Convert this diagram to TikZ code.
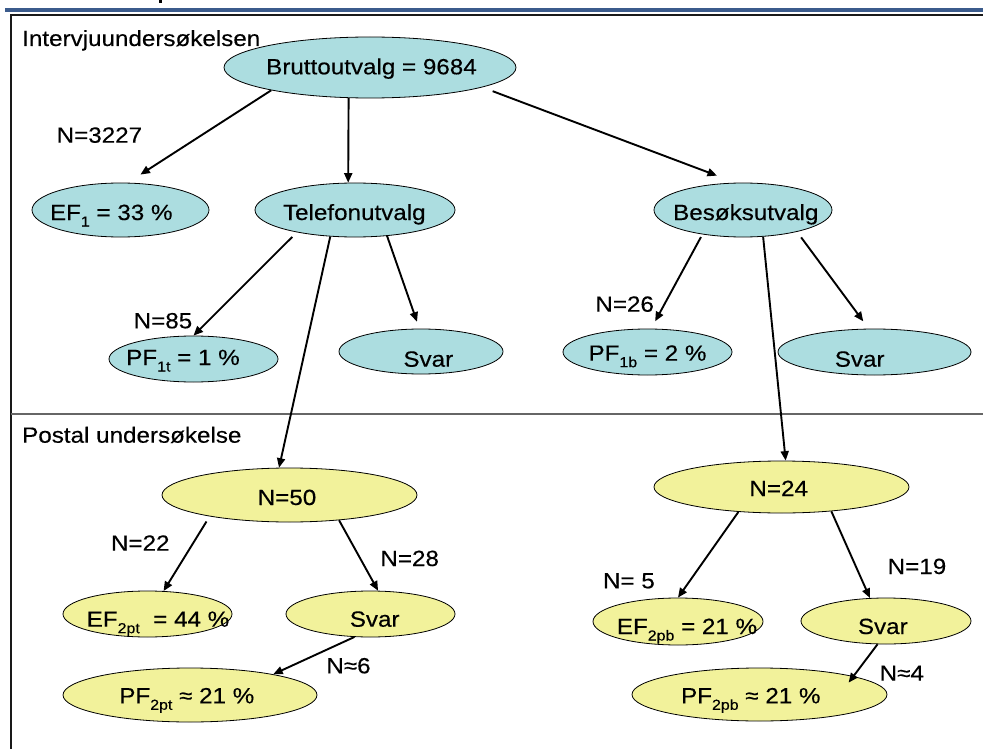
\documentclass[tikz,border=0pt]{standalone}
\usepackage{fontspec}
\setmainfont[FakeStretch=1.1,FakeBold=0.3]{Liberation Sans}
\usetikzlibrary{shapes.geometric,arrows.meta}
\definecolor{nodeblue}{RGB}{172,221,224}
\definecolor{nodeyellow}{RGB}{242,242,155}
\definecolor{barblue}{RGB}{59,91,140}
% lowered, smaller index text
\newcommand\sbs[1]{\raisebox{-6.5pt}{\fontsize{14.5}{14.5}\selectfont #1}}

\begin{document}
\begin{tikzpicture}[x=1pt,y=-1pt,
  every node/.style={font=\fontsize{22}{26}\selectfont},
  ell/.style={ellipse, draw=black, line width=0.8pt, inner sep=0pt},
  bell/.style={ell, fill=nodeblue},
  yell/.style={ell, fill=nodeyellow},
  txt/.style={anchor=base, inner sep=0pt},
  lbl/.style={anchor=base west, inner sep=0pt},
  arr/.style={line width=1.9pt, -{Triangle[length=9.5pt,width=8pt]}},
]
\useasboundingbox (0,0) rectangle (983,749);
\fill[white] (0,0) rectangle (983,749);

% page frame
\fill[black] (159,0) rectangle (161.5,3);
\fill[barblue] (5,8.3) rectangle (983,11.7);
\draw[line width=2pt, black!90] (983,15) -- (10.5,15) -- (10.5,749);
\draw[line width=1.2pt, black!60] (10.5,414) -- (983,414);

% interview survey
\node[bell, minimum width=292pt, minimum height=61pt] (brutto) at (370,67.5) {};
\node[bell, minimum width=177pt, minimum height=54pt] (ef1) at (120.5,210) {};
\node[bell, minimum width=200pt, minimum height=54pt] (tele) at (355,210) {};
\node[bell, minimum width=178pt, minimum height=54pt] (besok) at (743,210) {};
\node[bell, minimum width=169pt, minimum height=46pt] (pf1t) at (193.5,359) {};
\node[bell, minimum width=164pt, minimum height=45pt] (svar1) at (421,351.5) {};
\node[bell, minimum width=169pt, minimum height=46pt] (pf1b) at (647.5,352) {};
\node[bell, minimum width=193pt, minimum height=46pt] (svar2) at (874.5,352) {};

% postal survey
\node[yell, minimum width=255pt, minimum height=54pt] (n50) at (289.5,495) {};
\node[yell, minimum width=169pt, minimum height=46pt] (ef2pt) at (147.5,614) {};
\node[yell, minimum width=169pt, minimum height=46pt] (svarpt) at (370.5,614) {};
\node[yell, minimum width=254pt, minimum height=54pt] (pf2pt) at (190,695) {};
\node[yell, minimum width=255pt, minimum height=52pt] (n24) at (781.5,487) {};
\node[yell, minimum width=170pt, minimum height=47pt] (ef2pb) at (678,621.5) {};
\node[yell, minimum width=170pt, minimum height=46pt] (svarpb) at (886,621) {};
\node[yell, minimum width=255pt, minimum height=53pt] (pf2pb) at (759.5,694.5) {};

% connectors
\draw[arr, shorten >=15pt] (brutto.193) -- (ef1.75.6);
\draw[arr] (brutto.235) -- (tele.104.5);
\draw[arr, shorten <=11pt, shorten >=20pt] (brutto.350.1) -- (besok.105.2);
\draw[arr, shorten <=6.5pt] (tele.201.7) -- (pf1t.north);
\draw[arr] (tele.227.5) -- (n50.111.3);
\draw[arr, shorten >=7.3pt] (tele.321.3) -- (svar1.94);
\draw[arr, shorten <=3pt, shorten >=8.3pt] (besok.211.3) -- (pf1b.81.4);
\draw[arr] (besok.307.3) -- (n24.81);
\draw[arr, shorten <=6.9pt, shorten >=9.1pt] (besok.338.4) -- (svar2.104.9);
\draw[arr, shorten <=6pt] (n50.195.6) -- (ef2pt.55.6);
\draw[arr] (n50.333.3) -- (svarpt.72.5);
\draw[arr] (svarpt.235.6) -- (pf2pt.14.2);
\draw[arr] (n24.210.7) -- (ef2pb.north);
\draw[arr] (n24.334.5) -- (svarpb.125.3);
\draw[arr, shorten >=-8pt] (svarpb.250.8) -- (pf2pb.11);

% texts inside the ellipses
\node[txt] (brutto-t) at ([shift={(1.5,6.8)}]brutto.center) {Bruttoutvalg = 9684};
\node[txt] (ef1-t) at ([shift={(-9.2,10)}]ef1.center) {EF\sbs{1} = 33 \%};
\node[txt] (tele-t) at ([shift={(-0.7,10)}]tele.center) {Telefonutvalg};
\node[txt] (besok-t) at ([shift={(2.8,10)}]besok.center) {Besøksutvalg};
\node[txt] (pf1t-t) at ([shift={(-10.5,6)}]pf1t.center) {PF\sbs{1t} = 1 \%};
\node[txt] (svar1-t) at ([shift={(7.3,15.2)}]svar1.center) {Svar};
\node[txt] (pf1b-t) at ([shift={(0,8.7)}]pf1b.center) {PF\sbs{1b} = 2 \%};
\node[txt] (svar2-t) at ([shift={(-14.8,14.7)}]svar2.center) {Svar};
\node[txt] (n50-t) at ([shift={(-2.5,10)}]n50.center) {N=50};
\node[txt] (ef2pt-t) at ([shift={(10.5,12.7)}]ef2pt.center) {EF\sbs{2pt}\ \ = 44 \%};
\node[txt] (svarpt-t) at ([shift={(4.2,12.7)}]svarpt.center) {Svar};
\node[txt] (pf2pt-t) at ([shift={(-3.2,8.3)}]pf2pt.center) {PF\sbs{2pt} ≈ 21 \%};
\node[txt] (n24-t) at ([shift={(-2.8,9)}]n24.center) {N=24};
\node[txt] (ef2pb-t) at ([shift={(9,12.5)}]ef2pb.center) {EF\sbs{2pb} = 21 \%};
\node[txt] (svarpb-t) at ([shift={(-3.2,13)}]svarpb.center) {Svar};
\node[txt] (pf2pb-t) at ([shift={(-8.7,8.8)}]pf2pb.center) {PF\sbs{2pb} ≈ 21 \%};

% section titles and counts
\node[lbl] (lintervju) at (22,46) {Intervjuundersøkelsen};
\node[lbl] (lpostal) at (22,442.7) {Postal undersøkelse};
\node[lbl] (l3227) at (56.5,142.7) {N=3227};
\node[lbl] (l85) at (133.5,328.3) {N=85};
\node[lbl] (l26) at (595.2,311.7) {N=26};
\node[lbl] (l22) at (110.8,550.7) {N=22};
\node[lbl] (l28) at (380.2,566) {N=28};
\node[lbl] (l6) at (326.2,673.3) {N≈6};
\node[lbl] (l5) at (602.8,588.3) {N= 5};
\node[lbl] (l19) at (887.5,574) {N=19};
\node[lbl] (l4) at (879.5,680.7) {N≈4};
\end{tikzpicture}
\end{document}
